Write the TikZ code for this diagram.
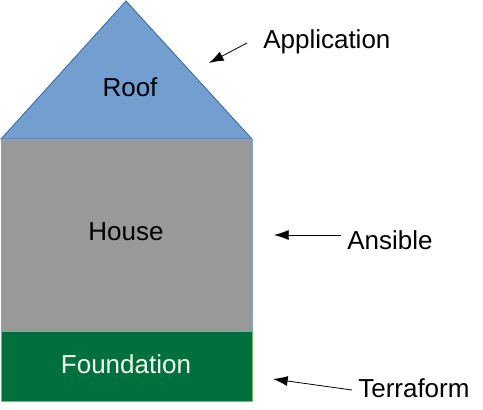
\documentclass[tikz,border=0pt]{standalone}
\usepackage{fontspec}
\setmainfont{Liberation Sans}
\usetikzlibrary{arrows.meta, positioning}
\definecolor{roofblue}{HTML}{729FCF}
\definecolor{edgeblue}{HTML}{3465A4}
\definecolor{wallgray}{HTML}{999999}
\definecolor{basegreen}{HTML}{00703C}
\definecolor{baseedge}{HTML}{77BC65}

\begin{document}
\begin{tikzpicture}[x=0.75pt, y=-0.75pt,
  lbl/.style={font=\fontsize{19.5}{23}\selectfont, inner sep=0pt},
  pointer/.style={-{Latex[length=11pt,width=7.5pt]}, line width=0.6pt}]
\useasboundingbox (0,0) rectangle (483,410);
% house body
\fill[roofblue, draw=edgeblue, line width=0.6pt] (126,1) -- (252,139) -- (1,139) -- cycle;
\fill[wallgray, draw=edgeblue!60, line width=0.5pt] (1,139) rectangle (252,331);
\fill[basegreen, draw=baseedge, line width=0.6pt] (1,331) rectangle (252,401);
\node[lbl] (roof) at (130,87) {Roof};
\node[lbl] (house) at (126,232) {House};
\node[lbl, text=white!95!green] (foundation) at (126,364) {Foundation};
% tool labels
\node[lbl, anchor=west] (app) at (263,42) {Application};
\node[lbl, anchor=west] (ansible) at (347,240) {Ansible};
\node[lbl, anchor=west] (terraform) at (358,388) {Terraform};
\coordinate (appfrom) at (247,43);
\coordinate (apptip) at (209,63);
\coordinate (ansfrom) at (341,235);
\coordinate (anstip) at (274,235);
\coordinate (terfrom) at (352,390);
\coordinate (tertip) at (273,379);
\draw[pointer] (appfrom) -- (apptip);
\draw[pointer] (ansfrom) -- (anstip);
\draw[pointer] (terfrom) -- (tertip);
\end{tikzpicture}
\end{document}
